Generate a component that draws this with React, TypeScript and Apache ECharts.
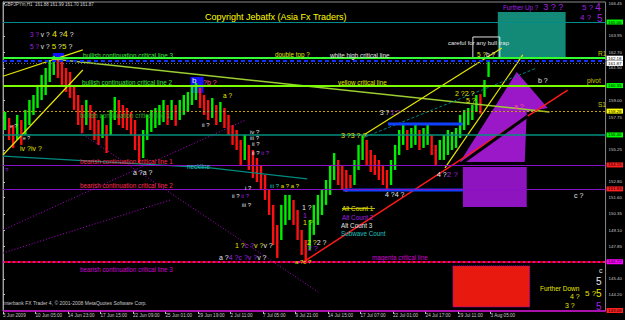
import React, { useEffect, useRef } from "react";
import * as echarts from "echarts";

// ---------- data ----------
const xTickLabels = ["5 Jun 2009", "10 Jun 05:00", "14 Jun 23:00", "17 Jun 15:00", "22 Jun 09:00", "25 Jun 01:00", "29 Jun 19:00", "2 Jul 11:00", "7 Jul 05:00", "9 Jul 21:00", "14 Jul 15:00", "17 Jul 07:00", "22 Jul 01:00", "24 Jul 17:00", "29 Jul 11:00", "3 Aug 05:00"];
const xTickBars = [0, 8, 16, 24, 32, 40, 48, 56, 64, 72, 80, 88, 96, 104, 112, 120];
// price-scale labels that are not hidden behind the coloured level boxes
const yTickValues = [166.45, 163.95, 162.7, 161.5, 159.0, 157.75, 155.25, 152.8, 151.6, 150.35, 149.1, 147.85, 145.4, 144.2];

// 8-hour bars (high / low)
const barHigh = [
  158.13, 157.68, 157.14, 157.91, 157.52, 158.29, 159.05, 159.43, 160.2, 160.96,
  161.49, 162.1, 162.41, 162.26, 161.95, 161.49, 161.19, 160.2, 159.43, 158.67,
  159.05, 158.67, 158.13, 157.52, 157.91, 157.14, 158.29, 159.28, 159.05, 158.67,
  158.44, 158.13, 157.52, 156.38, 156.76, 157.91, 158.29, 158.44, 158.67, 159.05,
  158.67, 159.05, 158.67, 159.05, 159.43, 159.66, 160.2, 160.35, 159.97, 159.43,
  159.05, 159.2, 158.67, 158.9, 158.44, 157.91, 157.14, 156.76, 156.0, 156.38,
  155.62, 155.23, 154.62, 154.09, 153.33, 152.18, 151.04, 149.51, 151.04, 151.8,
  151.8, 151.42, 150.65, 149.13, 148.36, 149.89, 151.04, 151.8, 152.18, 152.94,
  154.09, 155.0, 154.47, 154.09, 153.71, 153.33, 154.47, 155.62, 156.38, 156.0,
  155.23, 154.85, 154.47, 154.09, 153.71, 154.47, 155.62, 156.76, 157.29, 156.76,
  156.91, 157.14, 156.76, 156.91, 157.14, 156.38, 155.62, 156.0, 156.38, 156.76,
  156.61, 156.91, 157.91, 158.29, 158.44, 158.67, 159.43, 159.5, 160.58, 161.99,
];
const barLow = [
  156.76, 156.0, 155.39, 156.0, 155.62, 156.38, 157.14, 157.91, 158.44, 159.05,
  159.43, 160.42, 160.96, 160.73, 160.2, 159.66, 159.2, 158.29, 157.14, 156.53,
  157.14, 156.76, 156.0, 155.62, 156.15, 155.0, 156.38, 157.52, 157.14, 156.91,
  156.76, 156.38, 155.23, 154.24, 154.62, 156.0, 156.61, 156.91, 157.14, 157.37,
  157.14, 157.52, 157.07, 157.52, 157.91, 158.13, 158.67, 159.05, 158.44, 157.91,
  157.52, 157.68, 157.14, 157.37, 156.91, 156.38, 155.62, 155.23, 154.09, 154.47,
  153.71, 153.1, 152.79, 152.18, 151.42, 150.27, 147.98, 146.99, 148.36, 149.51,
  149.89, 149.51, 148.36, 147.22, 146.61, 147.6, 148.75, 149.51, 150.27, 151.04,
  151.8, 152.94, 152.56, 152.18, 152.03, 152.33, 152.56, 153.71, 154.47, 154.09,
  153.55, 153.33, 152.94, 152.56, 152.18, 152.56, 153.71, 154.85, 155.62, 155.23,
  155.39, 155.62, 155.23, 155.39, 155.62, 154.85, 154.09, 154.47, 154.47, 154.85,
  155.23, 155.39, 156.15, 156.76, 157.14, 157.52, 158.13, 158.0, 159.28, 160.81,
];

// horizontal levels
const levelPrices = [165.0, 162.24, 162.05, 161.84, 160.15, 158.2, 156.38, 154.09, 152.26, 146.7, 146.7, 142.98];
const levelLabels = ["165.00", "162.18", "", "161.87", "160.35", "158.28", "156.40", "154.15", "151.93", "", "146.72", "143.06"];

// trend lines, [bar, price] points
const trendPoints = [
  [[0, 160.86], [19.64, 162.87]],
  [[0, 154.85], [19.64, 161.34]],
  [[12.28, 162.18], [134.5, 158.13]],
  [[0, 154.77], [51.07, 153.86], [74.88, 153.02]],
  [[88.39, 156.3], [122.76, 163.02]],
  [[108.77, 153.86], [127.92, 162.49]],
  [[73.9, 146.68], [138.97, 159.81]],
  [[112.94, 154.24], [129.14, 157.83]],
  [[89.12, 156.23], [131.35, 161.49]],
  [[0, 149.13], [59.66, 157.52]],
  [[0, 147.37], [41.25, 151.42]],
  [[19.15, 156.53], [77.58, 144.39]],
  [[94.77, 157.22], [113.19, 157.22]],
  [[83.72, 152.18], [113.19, 152.18]],
];

// shapes, [bar, price] corners
const shapePoints = [
  [[121.78, 165.77], [138.47, 165.77], [138.47, 162.33], [121.78, 162.33]],
  [[126.44, 161.19], [134.05, 158.44], [128.9, 158.13], [128.41, 154.32], [112.45, 154.32]],
  [[113.18, 153.94], [128.9, 153.94], [128.9, 150.88], [113.18, 150.88]],
  [[110.73, 146.38], [129.63, 146.38], [129.63, 143.25], [110.73, 143.25]],
  [[115.64, 163.86], [122.27, 163.86], [122.27, 162.26], [115.64, 162.26]],
  [[12.28, 162.64], [14.98, 162.64], [14.98, 162.1], [12.28, 162.1]],
  [[46.16, 160.81], [49.35, 160.81], [49.35, 159.58], [46.16, 159.58]],
];

// ---------- styles ----------
const FONT = "'Liberation Sans', Arial, sans-serif";
const W = "#e6e6e6", Y = "#e6e600", P = "#a020e0", PK = "#ff4fa0", T = "#20c0c0", G = "#3ce63c", R = "#ff2a50", M = "#d000d0";

const levelStyles = [
  { color: "#008b8b", width: 1, type: "solid", bg: "#00ff00" },
  { color: "#33ff33", width: 2, type: "solid", bg: "#ffffff" },
  { color: "#1030ff", width: 2, type: [4, 3], bg: "" },
  { color: "#707070", width: 1, type: [1, 2], bg: "#ffffff" },
  { color: "#7cfc00", width: 2, type: "solid", bg: "#00ff00" },
  { color: "#c8a000", width: 1, type: [2, 2], bg: "#ffff00" },
  { color: "#00907c", width: 1.5, type: "solid", bg: "#00ff00" },
  { color: "#8a10c8", width: 1.2, type: "solid", bg: "#ff2020" },
  { color: "#8a10c8", width: 1.2, type: "solid", bg: "#ff2020" },
  { color: "#ff0000", width: 1.5, type: "solid", bg: "" },
  { color: "#ff00ff", width: 1.5, type: [2, 3], bg: "#ff00ff" },
  { color: "#cc00cc", width: 1.5, type: "solid", bg: "#ff2020" },
];

const trendStyles = [
  { color: "#e6e600", width: 1.2, type: "solid" },
  { color: "#e6e600", width: 1.2, type: "solid" },
  { color: "#9acd32", width: 1.5, type: "solid" },
  { color: "#008b80", width: 1.2, type: "solid" },
  { color: "#e6e600", width: 1.2, type: "solid" },
  { color: "#e6e600", width: 1.2, type: "solid" },
  { color: "#ff1a1a", width: 1.5, type: "solid" },
  { color: "#000000", width: 3, type: "solid" },
  { color: "#008080", width: 1, type: [3, 2] },
  { color: "#b000d0", width: 1, type: [1, 2] },
  { color: "#b000d0", width: 1, type: [1, 2] },
  { color: "#b000d0", width: 1, type: [1, 2] },
  { color: "#1040ff", width: 3, type: "solid" },
  { color: "#1040ff", width: 3, type: "solid" },
];

const shapeStyles = [
  { fill: "#138a78", stroke: null, lw: 0 },
  { fill: "#9a18c8", stroke: null, lw: 0 },
  { fill: "#8e14c0", stroke: null, lw: 0 },
  { fill: "#e8190e", stroke: "#a000c0", lw: 1 },
  { fill: "none", stroke: "#e0e0e0", lw: 1 },
  { fill: "#1010ff", stroke: null, lw: 0 },
  { fill: "#1010ff", stroke: null, lw: 0 },
];

type Part = [string, string, number?];
const notes: [number, number, Part[]][] = [
  [4, 4, [["GBPJPYm,H1  161.88 161.99 161.70 161.87", "#d0d0d0", 4.5]]],
  [205, 17, [["Copyright Jebatfx (Asia Fx Traders)", "#ffff00", 9]]],
  [30, 34, [["3 ?", P, 6.5], [" v ?", W, 6.5], [" 4", Y, 9], [" ?", W, 7], ["4", Y, 9], [" ?", W, 7]]],
  [30, 46, [["5 ?", P, 6.5], [" v ?", W, 6.5], [" 5", Y, 8], [" ?", W, 7], ["5", Y, 8], [" ?", W, 7]]],
  [83, 55, [["bullish continuation critical line 3", G]]],
  [82, 82, [["bullish continuation critical line 2", G]]],
  [80, 115, [["bullish continuation critical line 1", "#2fa82f"]]],
  [275, 54, [["double top ?", Y]]],
  [330, 55, [["white high critical line", W]]],
  [338, 82, [["yellow critical line", Y]]],
  [187, 166, [["neckline", T]]],
  [80, 161, [["bearish continuation critical line 1", R]]],
  [80, 185, [["bearish continuation critical line 2", R]]],
  [80, 269, [["bearish continuation critical line 3", M]]],
  [372, 257, [["magenta critical line", M]]],
  [503, 7, [["Further Up ?", P, 6.3], ["  3 ? ?", P, 9]]],
  [582, 7, [["5 ? ", P, 8], ["4", P, 10]]],
  [580, 17, [["4 ?", P, 8]]],
  [597, 18, [["5", P, 10]]],
  [448, 43, [["careful for any bull trap", W, 6]]],
  [477, 54, [["5 ?", Y, 6.5], ["b ?", W, 6.5]]],
  [538, 80, [["b ?", W, 7]]],
  [587, 80, [["pivot", "#c8c800", 6.5]]],
  [598, 53, [["R1", "#c8c800", 6.5]]],
  [598, 104, [["S1", "#c8c800", 6.5]]],
  [514, 106, [["a ?", PK, 7]]],
  [574, 195, [["c ?", W, 7]]],
  [455, 93, [["2 ?2 ?", Y, 7]]],
  [466, 100, [["5 ?", Y, 7]]],
  [341, 135, [["3 ?3 ? ?", Y, 7]]],
  [380, 112, [["3 ?", W, 6.5], [" 1 ?", P, 6.5]]],
  [385, 194, [["4 ?4 ?", W, 7]]],
  [437, 174, [["4 ?", W, 7], ["2 ?", P, 8]]],
  [20, 148, [["iv ?iv ?", Y, 7]]],
  [10, 126, [["e ?", W, 5]]],
  [23, 138, [["e ?", W, 5]]],
  [133, 172, [["a ?a ?", W, 7]]],
  [5, 170, [["?", P, 6]]],
  [192, 80, [["b", W, 8]]],
  [203, 82, [["?b ?", PK, 7]]],
  [223, 95, [["a ?", Y, 6.5]]],
  [202, 125, [["ii ?", W, 6]]],
  [250, 132, [["iv ?", W, 6]]],
  [250, 138, [["iii ?", W, 6]]],
  [252, 144, [["ii ?", W, 6]]],
  [252, 153, [["ii ?", W, 6], [" ii ?", P, 6]]],
  [270, 186, [["iii ?", T, 6], [" a ? a ?", Y, 6]]],
  [245, 188, [["i ?", W, 6]]],
  [232, 196, [["ii ?", W, 6], [" ii ?", P, 6]]],
  [242, 205, [["iii ?", W, 6]]],
  [235, 245, [["1 ?", Y, 7], ["c ?", P, 7], ["v ?", Y, 7], ["v ?", W, 7]]],
  [219, 257, [["a ?", W, 7], ["4 ?", P, 7], ["c ?", P, 7], ["v ?", P, 7], ["v ?", W, 7]]],
  [302, 207, [["1 ?", W, 7]]],
  [303, 215, [["1", P, 7]]],
  [303, 222, [["1 ?", Y, 7]]],
  [307, 242, [["2 ?", Y, 7], ["2 ?", W, 7]]],
  [308, 248, [["2 ?", P, 7]]],
  [295, 262, [["a ?c ?", Y, 6]]],
  [342, 208, [["Alt Count 1", Y, 6.3]]],
  [342, 217, [["Alt Count 2", P, 6.3]]],
  [341, 225, [["Alt Count 3", W, 6.3]]],
  [341, 233, [["Subwave Count", T, 6.3]]],
  [540, 288, [["Further Down", Y, 6.5]]],
  [570, 296, [["4 ?", Y, 7]]],
  [565, 305, [["3 ?", Y, 7]]],
  [599, 270, [["c", W, 7]]],
  [596, 281, [["5", W, 10]]],
  [585, 293, [["5 ?", Y, 8], ["5", Y, 10]]],
  [596, 306, [["5", P, 10]]],
  [3, 303, [["Interbank FX Trader 4, \u00a9 2001-2008 MetaQuotes Software Corp.", "#c8c8c8", 5]]],
];

function noteEl(x: number, y: number, parts: Part[]) {
  const rich: Record<string, any> = {};
  let text = "";
  parts.forEach(([t, c, s], i) => {
    rich["p" + i] = { fill: c, fontSize: s ?? 6.3, fontFamily: FONT };
    text += `{p${i}|${t}}`;
  });
  return { type: "text", x, y, z: 20, silent: true, style: { text, rich, verticalAlign: "middle", align: "left" } };
}

export default function App() {
  const ref = useRef<HTMLDivElement>(null);
  useEffect(() => {
    if (!ref.current) return;
    const chart = echarts.init(ref.current, null, { renderer: "svg" });
    const barData = barHigh.map((h, i) => [i + 0.5, barLow[i], h]);

    const trendSeries = trendPoints.map((pts, i) => ({
      type: "line",
      data: pts,
      symbol: "none",
      silent: true,
      z: 3,
      lineStyle: { color: trendStyles[i].color, width: trendStyles[i].width, type: trendStyles[i].type },
    }));

    const graphic: any[] = notes.map(([x, y, parts]) => noteEl(x, y, parts));
    graphic.push({ type: "line", z: 21, silent: true, shape: { x1: 342, y1: 208.5, x2: 375, y2: 208.5 }, style: { stroke: Y, lineWidth: 0.8 } });

    chart.setOption({
      animation: false,
      backgroundColor: "#000000",
      grid: { left: 2, right: 19, top: 2, height: 309, show: true, borderColor: "#8a8a8a", borderWidth: 1, backgroundColor: "#000000" },
      xAxis: {
        type: "value",
        min: 0,
        max: 148.3,
        splitLine: { show: false },
        axisLine: { show: false },
        axisTick: { show: true, customValues: xTickBars, length: 3, lineStyle: { color: "#c0c0c0" } },
        axisLabel: {
          customValues: xTickBars,
          formatter: (v: number) => xTickLabels[xTickBars.indexOf(Math.round(v))] ?? "",
          color: "#c8c8c8",
          fontSize: 4.6,
          fontFamily: FONT,
          align: "left",
          margin: 2,
        },
      },
      yAxis: {
        type: "value",
        position: "right",
        min: 142.94,
        max: 166.53,
        splitLine: { show: false },
        axisLine: { show: true, lineStyle: { color: "#a0a0a0" } },
        axisTick: { show: true, customValues: yTickValues, length: 2, lineStyle: { color: "#c0c0c0" } },
        axisLabel: {
          customValues: yTickValues,
          formatter: (v: number) => v.toFixed(2),
          color: "#c8c8c8",
          fontSize: 4.4,
          fontFamily: FONT,
          margin: 3,
        },
      },
      graphic,
      series: [
        {
          type: "custom",
          silent: true,
          z: 1,
          data: shapePoints.map((_, i) => [i]),
          renderItem: (params: any, api: any) => {
            const i = params.dataIndex;
            const st = shapeStyles[i];
            return {
              type: "polygon",
              shape: { points: shapePoints[i].map((p) => api.coord(p)) },
              style: { fill: st.fill, stroke: st.stroke, lineWidth: st.lw, lineDash: st.stroke === "#a000c0" ? [1, 1] : null },
            };
          },
        },
        {
          type: "custom",
          silent: true,
          z: 2,
          data: barData,
          encode: { x: 0, y: [1, 2] },
          renderItem: (params: any, api: any) => {
            const i = params.dataIndex;
            const x = api.value(0);
            const top = api.coord([x, api.value(2)]);
            const bot = api.coord([x, api.value(1)]);
            const up = i === 0 ? true : barHigh[i] + barLow[i] >= barHigh[i - 1] + barLow[i - 1];
            return {
              type: "rect",
              shape: { x: top[0] - 1.2, y: top[1], width: 2.4, height: Math.max(1, bot[1] - top[1]) },
              style: { fill: up ? "#00ee00" : "#ff1010" },
            };
          },
        },
        ...trendSeries,
        {
          type: "line",
          data: [[0, 150]],
          symbol: "none",
          silent: true,
          lineStyle: { opacity: 0 },
          z: 4,
          markLine: {
            symbol: "none",
            silent: true,
            data: levelPrices.map((p, i) => ({
              yAxis: p,
              lineStyle: { color: levelStyles[i].color, width: levelStyles[i].width, type: levelStyles[i].type },
              label: levelLabels[i]
                ? {
                    show: true,
                    position: "end",
                    distance: 1,
                    formatter: levelLabels[i],
                    backgroundColor: levelStyles[i].bg,
                    color: "#000000",
                    fontSize: 4.4,
                    lineHeight: 5,
                    fontFamily: FONT,
                    padding: [0, 1.5, 0, 1.5],
                  }
                : { show: false },
            })),
          },
        },
      ],
    });
    return () => chart.dispose();
  }, []);
  return <div ref={ref} style={{ position: "fixed", left: 0, top: 0, width: 625, height: 320, background: "#000" }} />;
}
